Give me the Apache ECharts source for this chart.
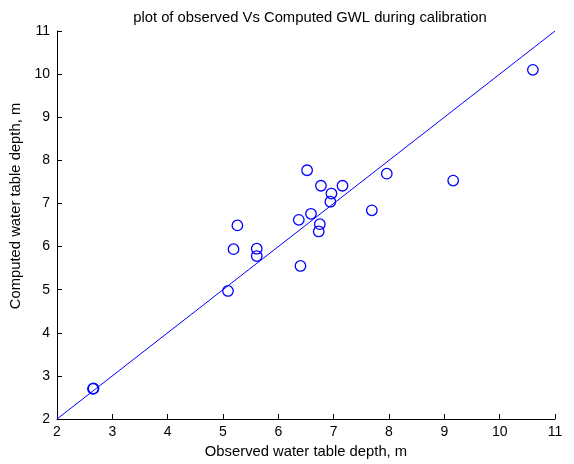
<!DOCTYPE html>
<html><head><meta charset="utf-8">
<script src="https://cdn.jsdelivr.net/npm/echarts@6/dist/echarts.min.js"></script>
<style>html,body{margin:0;padding:0;background:#fff}#c{width:574px;height:464px}</style>
</head><body><div id="c"></div>
<script>
const observed = [6.52,7.96,6.77,7.16,6.96,6.94,7.69,6.59,6.37,5.26,6.75,6.73,5.19,5.61,5.61,6.40,5.09,2.65,2.66,9.16,10.60];
const computed = [7.77,7.69,7.41,7.41,7.23,7.04,6.84,6.76,6.62,6.49,6.52,6.35,5.94,5.95,5.78,5.55,4.97,2.70,2.71,7.53,10.10];
const lineX = [2, 11];
const lineY = [2, 11];
const titleText = 'plot of observed Vs Computed GWL during calibration';
const xName = 'Observed water table depth, m';
const yName = 'Computed water table depth, m';

const font = '"Liberation Sans", Arial, sans-serif';
const chart = echarts.init(document.getElementById('c'));
const axisCommon = {
  min: 2, max: 11, interval: 1,
  nameLocation: 'middle',
  nameTextStyle: {color: '#000', fontSize: 14.8, fontFamily: font},
  axisLine: {show: true, lineStyle: {color: '#000', width: 1}},
  axisTick: {show: true, inside: true, length: 5, lineStyle: {color: '#000'}},
  axisLabel: {color: '#000', fontSize: 14, fontFamily: font},
  splitLine: {show: false}
};
chart.setOption({
  animation: false,
  title: {text: titleText, left: 305, top: 5, textAlign: 'center',
    textStyle: {fontSize: 14.8, fontWeight: 'normal', color: '#000', fontFamily: font}},
  grid: {left: 57, right: 19, top: 31, bottom: 44},
  xAxis: Object.assign({}, axisCommon, {type: 'value', name: xName, nameGap: 25,
    axisLabel: Object.assign({}, axisCommon.axisLabel, {margin: 6})}),
  yAxis: Object.assign({}, axisCommon, {type: 'value', name: yName, nameGap: 29,
    nameTextStyle: Object.assign({}, axisCommon.nameTextStyle, {padding: [0, 0, 0, 38]}),
    axisLabel: Object.assign({}, axisCommon.axisLabel, {margin: 7})}),
  series: [
    {type: 'line', data: lineX.map((x, i) => [x, lineY[i]]), showSymbol: false,
      lineStyle: {color: '#0000ff', width: 1}, silent: true},
    {type: 'scatter', data: observed.map((x, i) => [x, computed[i]]), symbol: 'circle', symbolSize: 10.5,
      itemStyle: {color: 'rgba(0,0,0,0)', borderColor: '#0000ff', borderWidth: 1.3, opacity: 1}}
  ]
});
</script></body></html>
